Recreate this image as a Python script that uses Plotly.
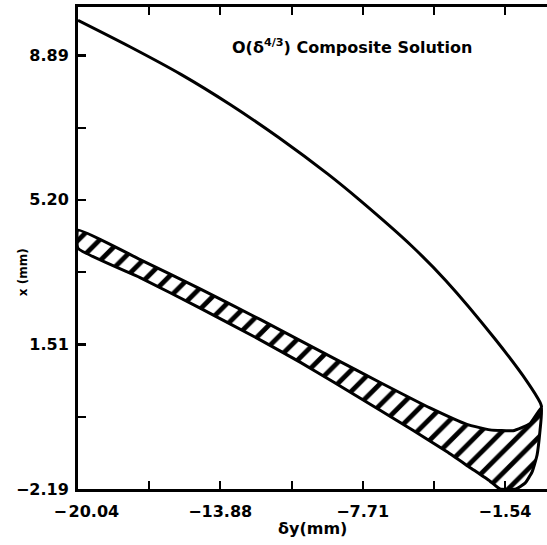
import plotly.graph_objects as go

# ---- data ----
upper_x = [-20.04, -17.79, -15.58, -13.45, -11.33, -9.21, -7.82, -5.57, -4.10, -1.97, -0.59, -0.02, 0.05]
upper_y = [9.78, 9.105, 8.40, 7.63, 6.78, 5.85, 5.18, 4.01, 3.13, 1.64, 0.56, 0.02, -0.10]

band_top_x = [-20.04, -17.35, -14.75, -12.15, -8.99, -6.95, -4.79, -3.19, -2.19, -1.19, -0.46, 0.05]
band_top_y = [4.42, 3.67, 2.92, 2.14, 1.16, 0.53, -0.12, -0.54, -0.68, -0.70, -0.52, -0.10]

band_right_x = [-0.02, -0.15, -0.37, -0.67, -1.06]
band_right_y = [-0.68, -1.32, -1.76, -2.04, -2.19]

band_bot_x = [-1.76, -2.19, -3.06, -4.05, -5.53, -6.95, -8.99, -10.42, -12.15, -14.75, -17.35, -20.04]
band_bot_y = [-2.19, -1.99, -1.64, -1.24, -0.69, -0.18, 0.55, 1.05, 1.62, 2.43, 3.21, 3.96]

x_tickvals = [-20.04, -13.88, -7.71, -1.54]
x_ticktext = ["\u00a0\u00a0\u00a0\u2212\u200a20.04", "\u221213.88", "\u22127.71", "\u22121.54"]
x_minor_step = 3.085
y_tickvals = [-2.19, 1.51, 5.20, 8.89]
y_ticktext = ["\u22122.19", "1.51", "5.20", "8.89"]
y_minor_step = 1.845

x_range = [-20.04, 0.28]
y_range = [-2.19, 10.12]

title_text = "O(δ<sup>4/3</sup>) Composite Solution"
x_title = "δy(mm)"
y_title = "x (mm)"

FONT = "DejaVu Sans"

fig = go.Figure()

band_x = band_top_x + band_right_x + band_bot_x + [band_top_x[0]]
band_y = band_top_y + band_right_y + band_bot_y + [band_top_y[0]]
fig.add_trace(go.Scatter(
    x=band_x, y=band_y, mode="lines", fill="toself",
    line=dict(color="black", width=3, shape="spline", smoothing=0.4),
    fillcolor="white",
    fillpattern=dict(shape="/", size=15, solidity=0.32, fgcolor="black", bgcolor="white", fillmode="replace"),
    hoverinfo="skip", showlegend=False,
))

fig.add_trace(go.Scatter(
    x=upper_x, y=upper_y, mode="lines",
    line=dict(color="black", width=3, shape="spline", smoothing=0.8),
    hoverinfo="skip", showlegend=False,
))

fig.update_layout(
    width=547, height=545,
    margin=dict(l=78, r=0, t=7, b=56),
    paper_bgcolor="white", plot_bgcolor="white",
    font=dict(family=FONT, color="black"),
    showlegend=False,
)

fig.update_xaxes(
    range=x_range, tickmode="array", tickvals=x_tickvals, ticktext=x_ticktext,
    showgrid=False, zeroline=False, showline=True, linecolor="black", linewidth=3,
    ticks="inside", ticklen=8, tickwidth=2, tickcolor="black", mirror="ticks",
    minor=dict(tick0=x_tickvals[0], dtick=x_minor_step, ticks="inside", ticklen=8,
               tickwidth=2, tickcolor="black", showgrid=False),
    tickfont=dict(family=FONT, size=16, color="black", weight="bold"),
    ticklabelstandoff=6,
)
fig.update_yaxes(
    range=y_range, tickmode="array", tickvals=y_tickvals, ticktext=y_ticktext,
    showgrid=False, zeroline=False, showline=True, linecolor="black", linewidth=3,
    ticks="inside", ticklen=8, tickwidth=2, tickcolor="black",
    minor=dict(tick0=y_tickvals[0], dtick=y_minor_step, ticks="inside", ticklen=8,
               tickwidth=2, tickcolor="black", showgrid=False),
    tickfont=dict(family=FONT, size=16, color="black", weight="bold"),
    ticklabelstandoff=3,
)

fig.add_annotation(text=title_text, xref="paper", yref="paper", x=0.584, y=0.918,
                   xanchor="center", yanchor="middle", showarrow=False,
                   font=dict(family=FONT, size=16, color="black", weight="bold"))
fig.add_annotation(text=x_title, xref="paper", yref="paper", x=0.50, y=-0.082,
                   xanchor="center", yanchor="middle", showarrow=False,
                   font=dict(family=FONT, size=16, color="black", weight="bold"))
fig.add_annotation(text=y_title, xref="paper", yref="paper", x=-0.117, y=0.45,
                   xanchor="center", yanchor="middle", showarrow=False, textangle=-90,
                   font=dict(family=FONT, size=12, color="black", weight="bold"))

fig.write_html("out.html")
